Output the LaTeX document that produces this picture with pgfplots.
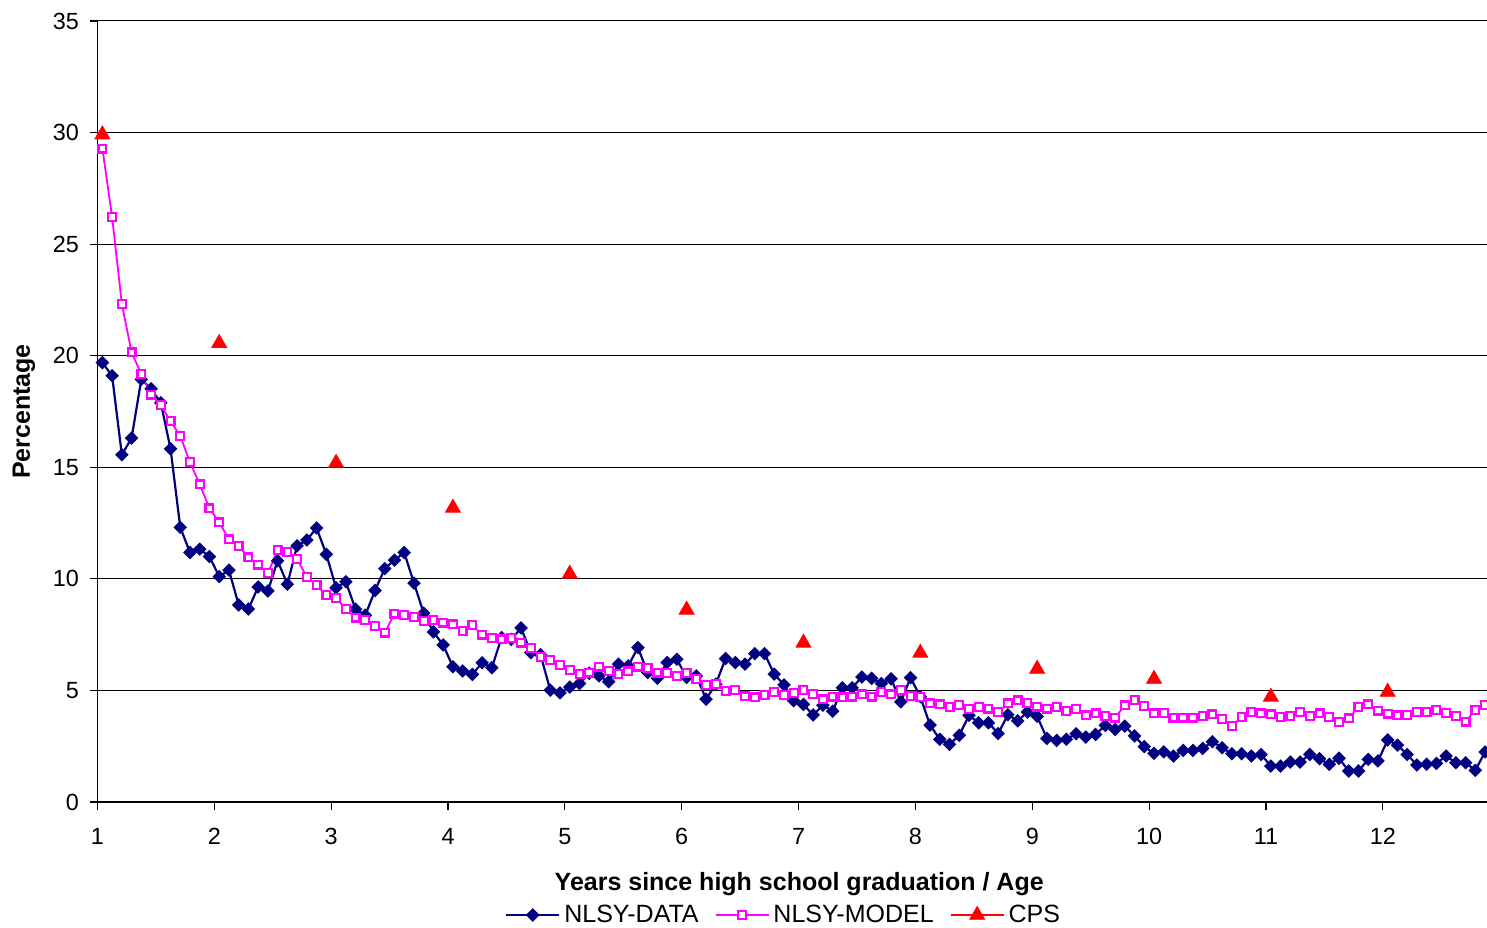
\documentclass[border=0pt]{standalone}
\usepackage{fontspec}
\setmainfont{Liberation Sans}
\usepackage{pgfplots}
\pgfplotsset{compat=1.18}
\definecolor{navyc}{RGB}{0,0,128}
\definecolor{magc}{RGB}{255,0,255}
\definecolor{redc}{RGB}{255,0,0}
\begin{document}
\begin{tikzpicture}
\begin{axis}[
 scale only axis, width=694.75pt, height=390.5pt,
 xmin=-0.5, xmax=142.2, ymin=0, ymax=35,
 axis x line=bottom, axis y line=left,
 axis line style={-, black, line width=0.7pt},
 xtick={-0.5,11.5,23.5,35.5,47.5,59.5,71.5,83.5,95.5,107.5,119.5,131.5},
 xticklabels={1,2,3,4,5,6,7,8,9,10,11,12},
 ytick={0,5,10,15,20,25,30,35},
 ymajorgrids, grid style={black, line width=0.5pt},
 tick align=outside, major tick length=3.75pt, tick style={black, line width=0.6pt},
 font=\fontsize{11.7}{14}\selectfont,
 /pgf/number format/assume math mode=true,
 yticklabel style={xshift=-2pt},
 xticklabel style={yshift=-6pt},
 xlabel={Years since high school graduation / Age},
 ylabel={Percentage},
 xlabel style={at={(axis description cs:0.505,-0.1049)}, anchor=center, font=\fontsize{12.5}{15}\selectfont\bfseries},
 ylabel style={at={(axis description cs:-0.053,0.5)}, anchor=center, font=\fontsize{12.5}{15}\selectfont\bfseries},
 legend columns=-1,
 legend style={at={(axis description cs:0.4945,-0.1447)}, anchor=center, draw=none, fill=none,
   font=\fontsize{12.5}{15}\selectfont,
   /tikz/every even column/.append style={column sep=6pt}},
 legend image code/.code={\draw[mark repeat=2,mark phase=2] plot coordinates {(0pt,0pt) (13.25pt,0pt) (26.5pt,0pt)};},
]
\addplot[navyc, line width=1.1pt, mark=square*, mark size=2.0pt, mark options={rotate=45, solid, fill=navyc, line width=0.8pt}] coordinates {
(0,19.69)(1,19.10)(2,15.56)(3,16.31)(4,18.94)(5,18.52)(6,17.89)(7,15.83)(8,12.31)(9,11.18)
(10,11.33)(11,11.00)(12,10.10)(13,10.39)(14,8.83)(15,8.65)(16,9.64)(17,9.46)(18,10.81)(19,9.76)
(20,11.48)(21,11.74)(22,12.28)(23,11.10)(24,9.60)(25,9.87)(26,8.64)(27,8.37)(28,9.48)(29,10.46)
(30,10.84)(31,11.18)(32,9.81)(33,8.46)(34,7.62)(35,7.04)(36,6.06)(37,5.87)(38,5.72)(39,6.24)
(40,6.02)(41,7.37)(42,7.29)(43,7.80)(44,6.69)(45,6.60)(46,5.01)(47,4.89)(48,5.15)(49,5.31)
(50,5.77)(51,5.65)(52,5.39)(53,6.18)(54,6.10)(55,6.92)(56,5.80)(57,5.55)(58,6.25)(59,6.40)
(60,5.58)(61,5.65)(62,4.61)(63,5.28)(64,6.43)(65,6.25)(66,6.18)(67,6.65)(68,6.65)(69,5.73)
(70,5.25)(71,4.54)(72,4.37)(73,3.90)(74,4.34)(75,4.07)(76,5.12)(77,5.12)(78,5.60)(79,5.54)
(80,5.31)(81,5.52)(82,4.49)(83,5.57)(84,4.72)(85,3.45)(86,2.81)(87,2.58)(88,2.99)(89,3.88)
(90,3.55)(91,3.55)(92,3.07)(93,3.91)(94,3.64)(95,4.03)(96,3.84)(97,2.85)(98,2.76)(99,2.81)
(100,3.06)(101,2.91)(102,3.03)(103,3.43)(104,3.25)(105,3.40)(106,2.96)(107,2.48)(108,2.18)(109,2.25)
(110,2.06)(111,2.31)(112,2.31)(113,2.40)(114,2.70)(115,2.43)(116,2.16)(117,2.16)(118,2.06)(119,2.13)
(120,1.61)(121,1.61)(122,1.79)(123,1.79)(124,2.13)(125,1.94)(126,1.69)(127,1.96)(128,1.39)(129,1.39)
(130,1.91)(131,1.84)(132,2.78)(133,2.55)(134,2.13)(135,1.66)(136,1.69)(137,1.73)(138,2.06)(139,1.76)
(140,1.76)(141,1.42)(142,2.24)
};
\addlegendentry{NLSY-DATA}
\addplot[magc, line width=0.9pt, mark=square*, mark size=1.95pt, mark options={solid, fill=white, line width=1.1pt}] coordinates {
(0,29.28)(1,26.22)(2,22.32)(3,20.15)(4,19.18)(5,18.26)(6,17.78)(7,17.08)(8,16.40)(9,15.23)
(10,14.23)(11,13.16)(12,12.53)(13,11.77)(14,11.47)(15,10.96)(16,10.64)(17,10.25)(18,11.30)(19,11.21)
(20,10.88)(21,10.09)(22,9.72)(23,9.28)(24,9.15)(25,8.64)(26,8.26)(27,8.16)(28,7.89)(29,7.59)
(30,8.44)(31,8.38)(32,8.28)(33,8.11)(34,8.16)(35,8.04)(36,7.96)(37,7.66)(38,7.93)(39,7.50)
(40,7.34)(41,7.29)(42,7.34)(43,7.14)(44,6.89)(45,6.51)(46,6.36)(47,6.14)(48,5.92)(49,5.73)
(50,5.80)(51,6.07)(52,5.88)(53,5.73)(54,5.85)(55,6.07)(56,6.00)(57,5.80)(58,5.77)(59,5.65)
(60,5.77)(61,5.51)(62,5.24)(63,5.28)(64,4.97)(65,5.01)(66,4.73)(67,4.69)(68,4.79)(69,4.94)
(70,4.79)(71,4.88)(72,5.03)(73,4.85)(74,4.60)(75,4.72)(76,4.69)(77,4.72)(78,4.82)(79,4.72)
(80,4.94)(81,4.82)(82,5.01)(83,4.75)(84,4.70)(85,4.42)(86,4.37)(87,4.27)(88,4.34)(89,4.18)
(90,4.27)(91,4.19)(92,4.04)(93,4.42)(94,4.55)(95,4.45)(96,4.28)(97,4.19)(98,4.27)(99,4.07)
(100,4.18)(101,3.88)(102,3.97)(103,3.85)(104,3.78)(105,4.33)(106,4.57)(107,4.30)(108,3.97)(109,4.00)
(110,3.78)(111,3.78)(112,3.78)(113,3.85)(114,3.93)(115,3.73)(116,3.40)(117,3.82)(118,4.04)(119,3.97)
(120,3.93)(121,3.82)(122,3.85)(123,4.03)(124,3.85)(125,3.97)(126,3.82)(127,3.58)(128,3.75)(129,4.25)
(130,4.37)(131,4.10)(132,3.96)(133,3.88)(134,3.90)(135,4.03)(136,4.03)(137,4.12)(138,4.00)(139,3.85)
(140,3.60)(141,4.12)(142,4.34)
};
\addlegendentry{NLSY-MODEL}
\addplot[redc, only marks, mark=triangle*, mark size=4.3pt, mark options={fill=redc, yshift=-1pt},
  legend image code/.code={\draw[redc,line width=1pt] (0pt,0pt) -- (26.5pt,0pt); \fill[redc] (13.25pt,4.3pt) -- (16.97pt,-2.15pt) -- (9.53pt,-2.15pt) -- cycle;}] coordinates {
(0,30.0)(12,20.65)(24,15.28)(36,13.27)(48,10.31)(60,8.70)(72,7.22)(84,6.77)(96,6.05)(108,5.60)(120,4.80)(132,5.02)
};
\addlegendentry{CPS}
\end{axis}
\pgfresetboundingbox
\path[use as bounding box] ([xshift=-48.75pt,yshift=-62.5pt]current axis.south west) rectangle ([yshift=10.5pt]current axis.north east);
\end{tikzpicture}
\end{document}
